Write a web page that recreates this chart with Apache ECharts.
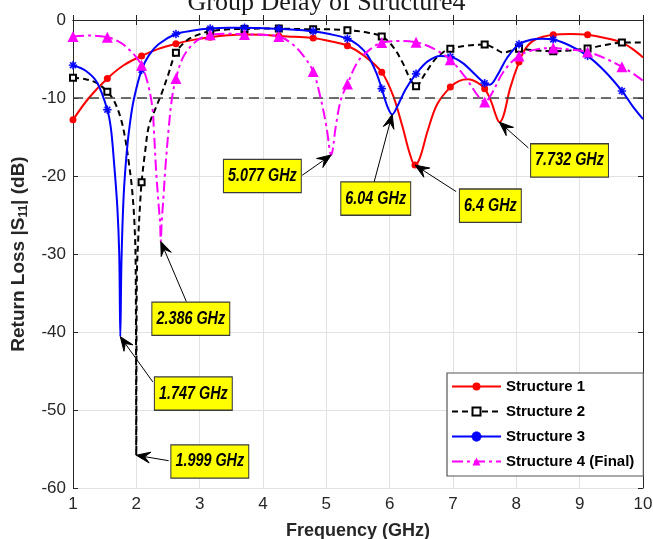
<!DOCTYPE html>
<html>
<head>
<meta charset="utf-8">
<script src="https://cdn.jsdelivr.net/npm/echarts@6/dist/echarts.min.js"></script>
<style>
  html, body { margin: 0; padding: 0; background: #fff; }
  #chart { width: 653px; height: 539px; }
</style>
</head>
<body>
<div id="chart"></div>
<script>
// Return loss |S11| in dB against frequency in GHz, one list per structure
const structure1 = [
  [1.0,-12.8],[1.25,-10.0],[1.542,-7.5],[1.8,-5.8],[2.083,-4.6],[2.35,-3.7],[2.625,-3.05],
  [2.9,-2.55],[3.167,-2.2],[3.45,-1.95],[3.708,-1.85],[4.0,-1.9],[4.25,-2.05],[4.5,-2.15],
  [4.792,-2.3],[5.05,-2.7],[5.333,-3.3],[5.6,-4.6],[5.875,-6.7],[6.05,-9.6],[6.2,-13.6],
  [6.32,-17.2],[6.4,-18.6],[6.48,-17.6],[6.6,-14.2],[6.75,-10.8],[6.958,-8.6],[7.1,-7.8],
  [7.24,-7.6],[7.38,-8.0],[7.5,-8.8],[7.6,-10.4],[7.68,-12.3],[7.732,-13.1],[7.8,-12.2],
  [7.9,-8.8],[8.042,-5.4],[8.15,-3.6],[8.3,-2.5],[8.583,-1.9],[8.85,-1.8],[9.125,-1.9],
  [9.4,-2.3],[9.667,-2.9],[9.85,-3.8],[10.0,-4.8]
];
const structure2 = [
  [1.0,-7.4],[1.2,-7.6],[1.38,-8.1],[1.542,-9.2],[1.65,-10.4],[1.75,-12.5],[1.82,-15.0],
  [1.88,-18.2],[1.93,-21.5],[1.97,-26.0],[1.99,-32.0],[1.999,-55.8],[2.008,-33.0],[2.03,-28.0],
  [2.06,-23.5],[2.083,-20.8],[2.14,-16.8],[2.2,-13.5],[2.3,-11.4],[2.4,-9.4],[2.5,-7.1],
  [2.625,-4.2],[2.8,-2.6],[2.97,-1.9],[3.167,-1.45],[3.45,-1.2],[3.708,-1.15],[4.0,-1.1],
  [4.25,-1.1],[4.5,-1.15],[4.792,-1.2],[5.05,-1.2],[5.333,-1.3],[5.6,-1.55],[5.875,-2.1],
  [6.05,-3.4],[6.2,-5.4],[6.32,-7.5],[6.417,-8.5],[6.55,-7.0],[6.7,-5.2],[6.85,-4.1],
  [6.958,-3.7],[7.2,-3.3],[7.5,-3.15],[7.65,-3.6],[7.8,-4.2],[7.92,-3.9],[8.042,-3.7],
  [8.3,-3.9],[8.583,-4.0],[8.85,-3.9],[9.125,-3.65],[9.4,-3.2],[9.667,-2.9],[10.0,-2.9]
];
const structure3 = [
  [1.0,-5.8],[1.2,-6.5],[1.38,-8.0],[1.542,-11.5],[1.6,-14.0],[1.65,-18.5],[1.7,-24.0],
  [1.73,-30.0],[1.747,-40.6],[1.765,-31.0],[1.8,-22.5],[1.85,-16.8],[1.9,-13.2],[1.96,-10.2],
  [2.083,-6.4],[2.2,-4.5],[2.35,-3.1],[2.625,-1.8],[2.9,-1.35],[3.167,-1.1],[3.45,-1.0],
  [3.708,-1.0],[4.0,-1.05],[4.25,-1.12],[4.5,-1.25],[4.792,-1.45],[5.05,-1.8],[5.333,-2.4],
  [5.5,-3.2],[5.65,-4.5],[5.78,-6.6],[5.875,-8.8],[5.96,-11.0],[6.04,-12.1],[6.12,-11.1],
  [6.25,-8.9],[6.417,-6.9],[6.6,-5.3],[6.8,-4.6],[6.958,-4.7],[7.15,-5.5],[7.35,-7.0],
  [7.5,-8.1],[7.58,-8.3],[7.7,-7.1],[7.85,-4.9],[8.042,-3.1],[8.25,-2.5],[8.4,-2.4],
  [8.583,-2.5],[8.85,-3.3],[9.125,-4.6],[9.4,-6.6],[9.667,-9.1],[9.85,-11.2],[10.0,-12.7]
];
const structure4 = [
  [1.0,-2.1],[1.25,-2.0],[1.542,-2.2],[1.75,-2.9],[1.9,-3.9],[2.0,-4.8],[2.083,-5.8],
  [2.17,-7.8],[2.25,-11.0],[2.28,-14.5],[2.31,-19.0],[2.35,-23.5],[2.375,-26.0],[2.386,-28.4],
  [2.4,-26.0],[2.43,-22.5],[2.46,-18.8],[2.51,-14.0],[2.56,-10.2],[2.625,-7.5],[2.75,-4.6],
  [2.95,-2.7],[3.167,-1.9],[3.45,-1.75],[3.708,-1.85],[4.0,-1.9],[4.25,-2.1],[4.45,-3.0],
  [4.62,-4.4],[4.792,-6.6],[4.91,-10.0],[5.0,-13.6],[5.077,-17.3],[5.15,-13.6],[5.23,-10.2],
  [5.333,-8.2],[5.5,-5.3],[5.7,-3.7],[5.875,-2.9],[6.15,-2.7],[6.417,-2.85],[6.7,-3.7],
  [6.958,-5.1],[7.2,-7.4],[7.4,-9.8],[7.5,-10.5],[7.6,-9.6],[7.8,-6.6],[8.042,-4.6],
  [8.3,-3.8],[8.583,-3.6],[8.85,-3.8],[9.125,-4.1],[9.4,-4.9],[9.667,-6.0],[9.85,-6.9],[10.0,-7.8]
];

// Frequencies that carry a marker symbol on every curve
const markerFreqs = [1.0,1.542,2.083,2.625,3.167,3.708,4.25,4.792,5.333,5.875,6.417,6.958,7.5,8.042,8.583,9.125,9.667];

const seriesNames = ['Structure 1', 'Structure 2', 'Structure 3', 'Structure 4 (Final)'];
const threshold = -10;

// Resonance call-outs: which curve, which frequency, and where the box and arrow tail sit (data units)
const calloutText = ['2.386 GHz', '1.747 GHz', '1.999 GHz', '5.077 GHz', '6.04 GHz', '6.4 GHz', '7.732 GHz'];
const calloutSeries = [3, 2, 1, 3, 2, 0, 0];
const calloutFreq = [2.386, 1.747, 1.999, 5.077, 6.04, 6.4, 7.732];
const calloutBox = [[2.86,-38.3],[2.90,-47.9],[3.16,-56.6],[3.99,-20.0],[5.78,-22.9],[7.59,-23.8],[8.84,-18.0]];
const calloutTail = [[2.79,-36.1],[2.26,-46.4],[2.51,-56.5],[4.62,-19.9],[5.75,-20.9],[7.05,-22.0],[8.19,-16.4]];

const allSeries = [structure1, structure2, structure3, structure4];

const SANS = "'Liberation Sans', Arial, Helvetica, sans-serif";
const AXIS_COLOR = '#262626';

const asterisk = 'path://M-10,-1.5H10V1.5H-10Z M-1.5,-10H1.5V10H-1.5Z ' +
  'M-8.1,-5.9L-5.9,-8.1L8.1,5.9L5.9,8.1Z M-5.9,8.1L-8.1,5.9L5.9,-8.1L8.1,-5.9Z';

function buildData(points) {
  return points.map(([f, v]) => {
    const marked = markerFreqs.some(m => Math.abs(m - f) < 0.02);
    return marked ? { value: [f, v] } : { value: [f, v], symbol: 'none' };
  });
}

const styles = [
  { color: '#ff0000', type: 'solid', symbol: 'circle', size: 7, border: 0 },
  { color: '#000000', type: [6, 4], symbol: 'emptyRect', size: 6, border: 1.5 },
  { color: '#0000ff', type: 'solid', symbol: asterisk, size: 8, border: 0.4 },
  { color: '#ff00ff', type: [11, 4, 3, 4], symbol: 'triangle', size: 11, border: 0 }
];

const series = allSeries.map((pts, i) => {
  const s = styles[i];
  const item = {
    name: seriesNames[i],
    type: 'line',
    data: buildData(pts),
    smooth: 0.35,
    symbol: s.symbol,
    symbolSize: s.size,
    showSymbol: true,
    lineStyle: { color: s.color, width: 2, type: s.type },
    itemStyle: { color: s.color, borderColor: s.color, borderWidth: s.border },
    emphasis: { disabled: true },
    z: 3 + i
  };
  if (i === 0) {
    item.markLine = {
      silent: true,
      symbol: ['none', 'none'],
      label: { show: false },
      lineStyle: { color: '#404040', width: 1.5, type: [10, 6] },
      data: [{ yAxis: threshold }]
    };
  }
  return item;
});

const chart = echarts.init(document.getElementById('chart'), null, { renderer: 'canvas' });

const option = {
  animation: false,
  backgroundColor: '#ffffff',
  title: {
    text: 'Group Delay of Structure4',
    left: 'center',
    top: -15,
    textStyle: { fontFamily: "'Liberation Serif', 'DejaVu Serif', serif", fontSize: 26, fontWeight: 'normal', color: '#1a1a1a' }
  },
  grid: { left: 73, right: 10, top: 20, bottom: 51, outerBoundsMode: 'none', containLabel: false },
  xAxis: [{
    type: 'value', min: 1, max: 10, interval: 1, position: 'bottom',
    name: 'Frequency (GHz)', nameLocation: 'middle', nameGap: 34,
    nameTextStyle: { fontFamily: SANS, fontSize: 18, fontWeight: 'bold', color: AXIS_COLOR },
    axisLine: { show: true, lineStyle: { color: AXIS_COLOR, width: 1 } },
    axisTick: { show: true, inside: true, length: 5, lineStyle: { color: AXIS_COLOR } },
    axisLabel: { fontFamily: SANS, fontSize: 17, color: AXIS_COLOR, margin: 8 },
    splitLine: { show: true, lineStyle: { color: '#e2e2e2', width: 1 } }
  }, {
    type: 'value', min: 1, max: 10, interval: 1, position: 'top',
    axisLine: { show: true, lineStyle: { color: AXIS_COLOR, width: 1 } },
    axisTick: { show: true, inside: true, length: 5, lineStyle: { color: AXIS_COLOR } },
    axisLabel: { show: false }, splitLine: { show: false }
  }],
  yAxis: [{
    type: 'value', min: -60, max: 0, interval: 10, position: 'left',
    name: 'Return Loss |S{sub|11}| (dB)', nameLocation: 'middle', nameGap: 43, nameRotate: 90,
    nameTextStyle: {
      fontFamily: SANS, fontSize: 19, fontWeight: 'bold', color: AXIS_COLOR,
      rich: { sub: { fontFamily: SANS, fontSize: 12, fontWeight: 'bold', color: AXIS_COLOR, verticalAlign: 'bottom', padding: [10, 0, 0, 0] } }
    },
    axisLine: { show: true, lineStyle: { color: AXIS_COLOR, width: 1 } },
    axisTick: { show: true, inside: true, length: 5, lineStyle: { color: AXIS_COLOR } },
    axisLabel: { fontFamily: SANS, fontSize: 17, color: AXIS_COLOR, margin: 7 },
    splitLine: { show: true, lineStyle: { color: '#e2e2e2', width: 1 } }
  }, {
    type: 'value', min: -60, max: 0, interval: 10, position: 'right',
    axisLine: { show: true, lineStyle: { color: AXIS_COLOR, width: 1 } },
    axisTick: { show: true, inside: true, length: 5, lineStyle: { color: AXIS_COLOR } },
    axisLabel: { show: false }, splitLine: { show: false }
  }],
  legend: {
    data: seriesNames,
    orient: 'vertical',
    left: 447, top: 373,
    itemWidth: 49, itemHeight: 10, itemGap: 10,
    padding: [6, 9, 7, 4],
    backgroundColor: '#ffffff',
    borderColor: '#555555', borderWidth: 1.2,
    selectedMode: false,
    textStyle: { fontFamily: SANS, fontSize: 15, fontWeight: 'bold', color: '#000' }
  },
  series: series
};

chart.setOption(option);

// Yellow call-out boxes with arrows pointing at each resonance dip
function drawCallouts() {
  const toPx = p => chart.convertToPixel({ gridIndex: 0 }, p);
  const elements = [];
  calloutText.forEach((txt, i) => {
    const pts = allSeries[calloutSeries[i]];
    const target = pts.find(p => Math.abs(p[0] - calloutFreq[i]) < 1e-6);
    const tip = toPx(target);
    const tail = toPx(calloutTail[i]);
    const box = toPx(calloutBox[i]);
    const dx = tip[0] - tail[0], dy = tip[1] - tail[1];
    const len = Math.hypot(dx, dy);
    const ux = dx / len, uy = dy / len;
    const nx = -uy, ny = ux;
    const L = 14, W = 5.5;
    const back = [tip[0] - ux * L, tip[1] - uy * L];
    const notch = [tip[0] - ux * L * 0.6, tip[1] - uy * L * 0.6];
    elements.push({
      type: 'line', z: 20, silent: true,
      shape: { x1: tail[0], y1: tail[1], x2: notch[0], y2: notch[1] },
      style: { stroke: '#000', lineWidth: 1 }
    });
    elements.push({
      type: 'polygon', z: 20, silent: true,
      shape: { points: [tip, [back[0] + nx * W, back[1] + ny * W], notch, [back[0] - nx * W, back[1] - ny * W]] },
      style: { fill: '#000', stroke: '#000', lineWidth: 1 }
    });
    elements.push({
      type: 'text', z: 21, silent: true,
      x: box[0], y: box[1], scaleX: 0.8, scaleY: 1,
      style: {
        text: txt, align: 'center', verticalAlign: 'middle',
        fontFamily: SANS, fontSize: 18, fontWeight: 'bold', fontStyle: 'italic', fill: '#000',
        backgroundColor: '#ffff00', borderColor: '#3a3a3a', borderWidth: 1.3, padding: [7, 5, 7, 5]
      }
    });
  });
  chart.setOption({ graphic: elements });
}
drawCallouts();
</script>
</body>
</html>
